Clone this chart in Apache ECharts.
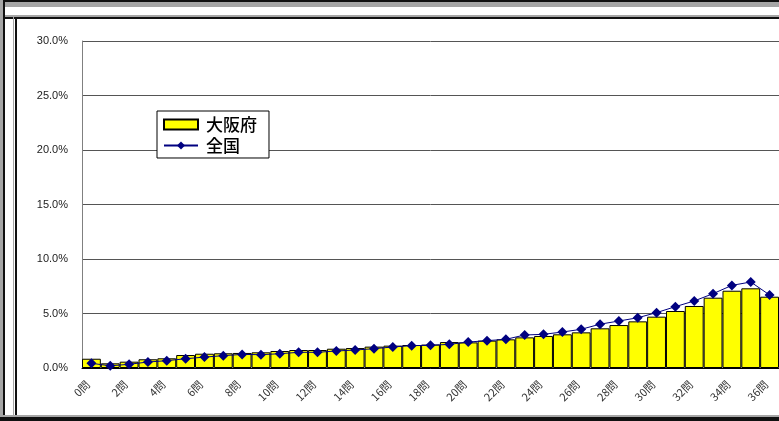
<!DOCTYPE html>
<html>
<head>
<meta charset="utf-8">
<script src="https://cdn.jsdelivr.net/npm/echarts@6/dist/echarts.min.js"></script>
<style>
html, body { margin: 0; padding: 0; background: #fff; }
#main { width: 779px; height: 421px; }
</style>
</head>
<body>
<div id="main"></div>
<script>
// 問題数ごとの割合（%）
var categories = ['0問','1問','2問','3問','4問','5問','6問','7問','8問','9問',
    '10問','11問','12問','13問','14問','15問','16問','17問','18問','19問',
    '20問','21問','22問','23問','24問','25問','26問','27問','28問','29問',
    '30問','31問','32問','33問','34問','35問','36問'];
var osaka = [0.85, 0.43, 0.58, 0.80, 0.89, 1.19, 1.31, 1.35, 1.38, 1.44,
    1.56, 1.65, 1.65, 1.77, 1.83, 1.96, 2.05, 2.11, 2.15, 2.38,
    2.35, 2.51, 2.63, 2.81, 2.94, 3.09, 3.27, 3.64, 3.94, 4.28,
    4.71, 5.23, 5.69, 6.45, 7.09, 7.31, 6.54];
var zenkoku = [0.43, 0.20, 0.34, 0.55, 0.67, 0.85, 1.00, 1.13, 1.25, 1.22,
    1.31, 1.44, 1.44, 1.56, 1.65, 1.77, 1.93, 2.05, 2.08, 2.17,
    2.38, 2.51, 2.63, 3.03, 3.09, 3.30, 3.55, 4.02, 4.31, 4.61,
    5.08, 5.63, 6.15, 6.82, 7.58, 7.89, 6.70];
var yTicks = [0, 5, 10, 15, 20, 25, 30];

var myChart = echarts.init(document.getElementById('main'));
var option = {
    animation: false,
    backgroundColor: '#fff',
    grid: {
        left: 82,
        right: 0,
        top: 41,
        bottom: 53,
        containLabel: false,
        outerBoundsMode: 'none'
    },
    legend: {
        orient: 'vertical',
        left: 157,
        top: 111,
        padding: [5, 12, 4, 6],
        itemGap: 4,
        itemWidth: 34,
        itemHeight: 10,
        backgroundColor: '#fff',
        borderColor: '#000',
        borderWidth: 1,
        textStyle: {
            fontSize: 17,
            color: '#000',
            fontFamily: 'Noto Sans CJK JP',
            fontWeight: 500,
            padding: [0, 0, 0, 3]
        },
        data: [{ name: '大阪府', icon: 'rect' }, { name: '全国' }]
    },
    xAxis: {
        type: 'category',
        data: categories,
        axisLine: { lineStyle: { color: '#000', width: 1 } },
        axisTick: { show: false },
        axisLabel: {
            interval: 1,
            rotate: 45,
            fontSize: 11,
            color: '#333',
            margin: 11,
            padding: [0, 5, 0, 0],
            fontFamily: 'Noto Sans CJK JP'
        }
    },
    yAxis: {
        type: 'value',
        min: yTicks[0],
        max: yTicks[yTicks.length - 1],
        interval: 5,
        axisLine: { show: true, lineStyle: { color: '#808080' } },
        axisTick: { show: false },
        axisLabel: {
            fontSize: 11,
            color: '#222',
            margin: 14,
            fontFamily: 'Liberation Sans',
            formatter: function (v) { return v.toFixed(1) + '%'; }
        },
        splitLine: { lineStyle: { color: '#555', width: 1 } }
    },
    series: [
        {
            name: '大阪府',
            type: 'bar',
            barCategoryGap: '0%',
            data: osaka,
            itemStyle: {
                color: '#ffff00',
                borderColor: '#000',
                borderWidth: 1
            }
        },
        {
            name: '全国',
            type: 'line',
            data: zenkoku,
            symbol: 'diamond',
            symbolSize: [10, 10],
            lineStyle: { color: '#000080', width: 1 },
            itemStyle: { color: '#000080' }
        }
    ],
    graphic: [
        // 上のパネルの枠
        { type: 'rect', shape: { x: 0, y: 0, width: 779, height: 2 }, style: { fill: '#111' }, silent: true },
        { type: 'rect', shape: { x: 0, y: 2, width: 779, height: 5 }, style: { fill: '#a6a6a6' }, silent: true },
        { type: 'rect', shape: { x: 0, y: 15, width: 779, height: 2 }, style: { fill: '#a6a6a6' }, silent: true },
        { type: 'rect', shape: { x: 0, y: 17, width: 779, height: 2 }, style: { fill: '#111' }, silent: true },
        // 左側の枠
        { type: 'rect', shape: { x: 0, y: 0, width: 3, height: 421 }, style: { fill: '#a6a6a6' }, silent: true },
        { type: 'rect', shape: { x: 3, y: 0, width: 2, height: 421 }, style: { fill: '#111' }, silent: true },
        { type: 'rect', shape: { x: 5, y: 8, width: 8, height: 7 }, style: { fill: '#fff' }, silent: true },
        { type: 'rect', shape: { x: 13, y: 15, width: 1, height: 406 }, style: { fill: '#a6a6a6' }, silent: true },
        { type: 'rect', shape: { x: 15, y: 17, width: 2, height: 404 }, style: { fill: '#111' }, silent: true },
        // 下の枠
        { type: 'rect', shape: { x: 0, y: 415, width: 779, height: 2 }, style: { fill: '#a6a6a6' }, silent: true },
        { type: 'rect', shape: { x: 0, y: 417, width: 779, height: 4 }, style: { fill: '#111' }, silent: true }
    ]
};
myChart.setOption(option);
</script>
</body>
</html>
